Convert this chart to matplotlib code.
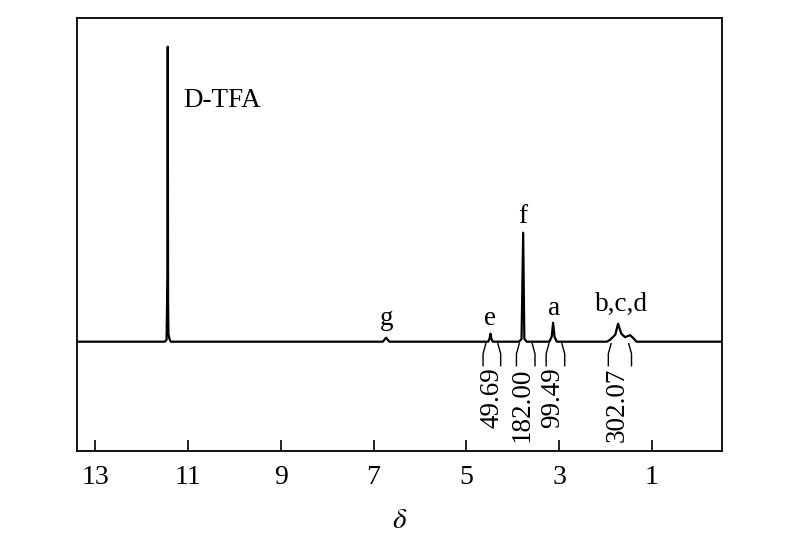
import matplotlib
matplotlib.use("Agg")
import matplotlib.pyplot as plt

plt.rcParams['font.family'] = ['Liberation Serif', 'DejaVu Serif']
plt.rcParams['mathtext.fontset'] = 'stix'

# spectrum trace (chemical shift, intensity)
shift = [13.39, 11.50, 11.46, 11.442, 11.435, 11.428, 11.42, 11.40, 11.37,
         6.80, 6.73, 6.66,
         4.53, 4.50, 4.48, 4.46, 4.43,
         3.86, 3.81, 3.775, 3.75, 3.70,
         3.21, 3.16, 3.13, 3.10, 3.05,
         1.97, 1.90, 1.79, 1.73, 1.66, 1.58, 1.47, 1.41, 1.33,
         -0.51]
intensity = [0, 0, 2, 66, 295, 40, 8, 3, 0,
             0, 4, 0,
             0, 3, 8, 3, 0,
             0, 3, 109, 3, 0,
             0, 5, 19, 5, 0,
             0, 2, 7, 18, 8, 4.5, 6.5, 4, 0,
             0]

# peak labels
peak_names = ["D-TFA", "g", "e", "f", "a", "b,c,d"]
peak_x = [11.10, 6.72, 4.50, 3.78, 3.10, 1.65]
peak_y = [235, 17, 17, 119, 27, 31]

# integration regions
int_start = [4.64, 3.92, 3.28, 1.94]
int_end = [4.26, 3.52, 2.88, 1.44]
int_values = ["49.69", "182.00", "99.49", "302.07"]
int_label_x = [4.45, 3.80, 3.13, 1.76]

fig = plt.figure(figsize=(8, 5.43), dpi=100)
ax = fig.add_axes([0.0963, 0.17, 0.8062, 0.7974])

ax.plot(shift, intensity, color="black", lw=1.6)

for i, name in enumerate(peak_names):
    ha = "left" if name == "D-TFA" else "center"
    ax.text(peak_x[i], peak_y[i], name, ha=ha, va="baseline", fontsize=19.5)

# integration brackets and values
for s, e, v, lx in zip(int_start, int_end, int_values, int_label_x):
    ax.plot([s - 0.06, s, s], [-2, -12, -24], color="black", lw=1.0)
    ax.plot([e + 0.06, e, e], [-2, -12, -24], color="black", lw=1.0)
    ax.text(lx, -26, v, rotation=90, ha="center", va="top", fontsize=19.5)

ax.set_xlim(13.39, -0.51)
ax.set_ylim(-109, 324)
ax.set_xticks([13, 11, 9, 7, 5, 3, 1])
ax.set_yticks([])
ax.tick_params(axis="x", direction="in", length=8, width=1.2, labelsize=20, pad=10)
for sp in ax.spines.values():
    sp.set_linewidth(1.3)
ax.set_xlabel(r"$\delta$", fontsize=21, labelpad=13)

fig.savefig("out.png", dpi=100)
